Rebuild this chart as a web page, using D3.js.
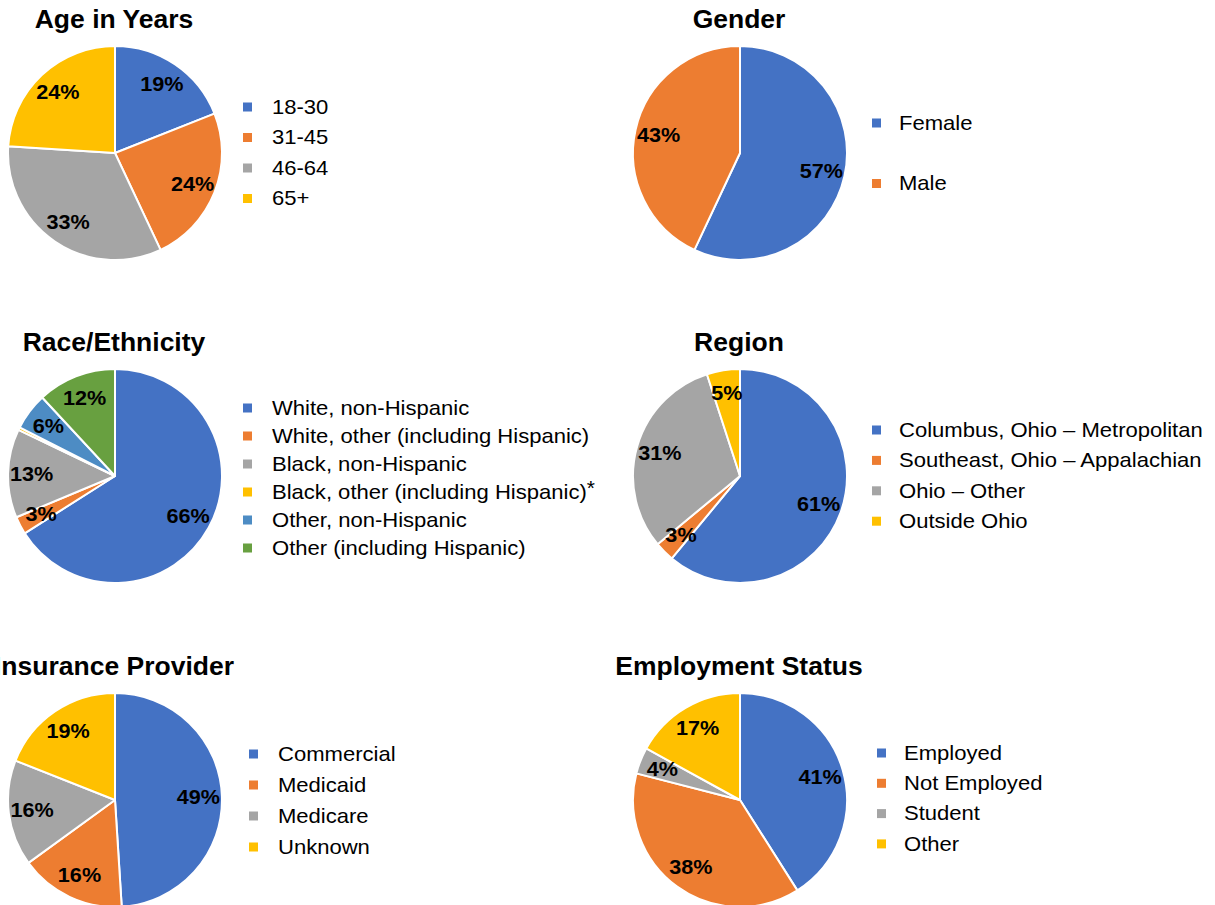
<!DOCTYPE html>
<html>
<head>
<meta charset="utf-8">
<script src="https://cdn.jsdelivr.net/npm/d3@7"></script>
<style>
  html, body { margin: 0; padding: 0; background: #fff; }
  svg { display: block; font-family: "Liberation Sans", Arial, sans-serif; }
</style>
</head>
<body>
<svg id="chart" width="1215" height="905"></svg>
<script>
// data (percent)
const ageLabels = ['18-30', '31-45', '46-64', '65+']
const ageValues = [19, 24, 33, 24]

const genderLabels = ['Female', 'Male']
const genderValues = [57, 43]

const raceLabels = ['White, non-Hispanic', 'White, other (including Hispanic)', 'Black, non-Hispanic',
  'Black, other (including Hispanic)', 'Other, non-Hispanic', 'Other (including Hispanic)']
const raceValues = [66.0, 2.7, 13.4, 0.4, 5.6, 11.9]

const regionLabels = ['Columbus, Ohio \u2013 Metropolitan', 'Southeast, Ohio \u2013 Appalachian', 'Ohio \u2013 Other', 'Outside Ohio']
const regionValues = [61, 3, 31, 5]

const insuranceLabels = ['Commercial', 'Medicaid', 'Medicare', 'Unknown']
const insuranceValues = [49, 16, 16, 19]

const employmentLabels = ['Employed', 'Not Employed', 'Student', 'Other']
const employmentValues = [41, 38, 4, 17]

const palette = ['#4472C4', '#ED7D31', '#A5A5A5', '#FFC000', '#4D8CC4', '#68A040']

const charts = [
  { title: 'Age in Years', labels: ageLabels, values: ageValues, cx: 115, cy: 153, lx: 243, ly: 107, ldy: 30.5 },
  { title: 'Gender', labels: genderLabels, values: genderValues, cx: 740, cy: 153, lx: 872, ly: 123, ldy: 60.5 },
  { title: 'Race/Ethnicity', labels: raceLabels, values: raceValues, cx: 115, cy: 476, lx: 243, ly: 408, ldy: 28, star: 3 },
  { title: 'Region', labels: regionLabels, values: regionValues, cx: 740, cy: 476, lx: 872, ly: 430, ldy: 30.4 },
  { title: 'Insurance Provider', labels: insuranceLabels, values: insuranceValues, cx: 115, cy: 800, lx: 249, ly: 754, ldy: 31 },
  { title: 'Employment Status', labels: employmentLabels, values: employmentValues, cx: 740, cy: 800, lx: 877, ly: 753, ldy: 30.3 }
]

const radius = 107
const svg = d3.select('#chart')
const pie = d3.pie().sort(null).value(d => d)
const arc = d3.arc().innerRadius(0).outerRadius(radius)
const labelArc = d3.arc().innerRadius(radius * 0.78).outerRadius(radius * 0.78)
const color = d3.scaleOrdinal().range(palette)

charts.forEach(c => {
  const g = svg.append('g')

  // reference text runs a little wider than Liberation Sans, so stretch it
  g.append('text')
    .attr('transform', `translate(${c.cx - 1}, ${c.cy - radius - 18}) scale(1.06, 1)`)
    .attr('text-anchor', 'middle')
    .attr('font-size', 25)
    .attr('font-weight', 'bold')
    .attr('fill', '#000')
    .text(c.title)

  const gp = g.append('g').attr('transform', `translate(${c.cx}, ${c.cy})`)
  const arcs = pie(c.values)
  color.domain(d3.range(c.values.length))

  gp.selectAll('path')
    .data(arcs)
    .enter()
    .append('path')
    .attr('d', arc)
    .attr('fill', (d, i) => color(i))
    .attr('stroke', '#fff')
    .attr('stroke-width', 2)
    .attr('stroke-linejoin', 'round')

  gp.selectAll('.lbl')
    .data(arcs.filter(d => d.data >= 1))
    .enter()
    .append('text')
    .attr('class', 'lbl')
    .attr('transform', d => `translate(${labelArc.centroid(d)}) scale(1.03, 1)`)
    .attr('text-anchor', 'middle')
    .attr('dominant-baseline', 'central')
    .attr('font-size', 21)
    .attr('font-weight', 'bold')
    .attr('fill', '#000')
    .text(d => Math.round(d.data) + '%')

  const items = g.selectAll('.item')
    .data(c.labels)
    .enter()
    .append('g')
    .attr('transform', (d, i) => `translate(${c.lx}, ${c.ly + i * c.ldy})`)

  items.append('rect')
    .attr('x', 0)
    .attr('y', -4.5)
    .attr('width', 9)
    .attr('height', 9)
    .attr('fill', (d, i) => color(i))

  const txt = items.append('text')
    .attr('transform', `translate(${c.lx < 600 ? 29 : 27}, 0) scale(1.05, 1)`)
    .attr('dominant-baseline', 'central')
    .attr('font-size', 21)
    .attr('fill', '#000')
    .text(d => d)

  if (c.star !== undefined) {
    txt.filter((d, i) => i === c.star)
      .append('tspan')
      .attr('dy', -5)
      .attr('font-size', 20)
      .text('*')
  }
})
</script>
</body>
</html>
